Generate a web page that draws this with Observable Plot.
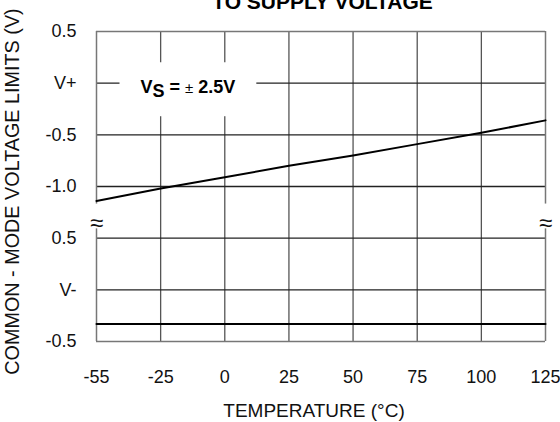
<!DOCTYPE html>
<html><head><meta charset="utf-8">
<script src="https://cdn.jsdelivr.net/npm/d3@7"></script>
<script src="https://cdn.jsdelivr.net/npm/@observablehq/plot@0.6"></script>
<style>body{margin:0;background:#fff}</style>
</head><body><div id="chart"></div>
<script>
// ---- data ----
const temps = [-55, -25, 0, 25, 50, 75, 100, 125];
// upper common-mode limit, volts relative to V+
const upperLimit = [-1.14, -1.02, -0.91, -0.80, -0.70, -0.59, -0.48, -0.36];
// lower common-mode limit, volts relative to V-
const lowerLimit = [-0.33, -0.33, -0.33, -0.33, -0.33, -0.33, -0.33, -0.33];
const yTickLabels = ["0.5", "V+", "-0.5", "-1.0", "0.5", "V-", "-0.5"];
const titleText = "TO SUPPLY VOLTAGE";
const xLabel = "TEMPERATURE (°C)";
const yLabel = "COMMON - MODE VOLTAGE LIMITS (V)";
const annotationText = "VS = ± 2.5V";

// ---- derived ----
const SEG = 2; // the V- segment sits 2 units below the V+ segment on the broken axis
const yPos = yTickLabels.map((_, i) => 0.5 - 0.5 * i);
const xIdx = temps.map((_, i) => i);
const upper = temps.map((t, i) => ({x: i, y: upperLimit[i]}));
const lower = temps.map((t, i) => ({x: i, y: lowerLimit[i] - SEG}));
const yTop = yPos[0], yBot = yPos[yPos.length - 1];
const xLast = xIdx[xIdx.length - 1];
const breakTop = -1.17, breakBottom = -1.41, breakMid = -1.36;
const font = "Liberation Sans, Arial, Helvetica, sans-serif";

const plot = Plot.plot({
  width: 560,
  height: 422,
  marginLeft: 96,
  marginRight: 15,
  marginTop: 31,
  marginBottom: 81,
  style: {fontFamily: font, fontSize: "18px", color: "#111", background: "#fff", overflow: "visible"},
  x: {domain: [0, xLast], axis: null},
  y: {domain: [yBot, yTop], axis: null},
  marks: [
    // grid
    Plot.ruleX(xIdx.slice(1, -1), {y1: yBot, y2: yTop, stroke: "#555", strokeWidth: 1.3}),
    Plot.ruleY(yPos.slice(1, -1), {x1: 0, x2: xLast, stroke: "#222", strokeWidth: 1.3}),
    // frame with axis breaks
    Plot.ruleY([yTop, yBot], {x1: 0, x2: xLast, stroke: "#777", strokeWidth: 1.5}),
    Plot.ruleX([0, xLast], {y1: breakTop, y2: yTop, stroke: "#777", strokeWidth: 1.5}),
    Plot.ruleX([0, xLast], {y1: yBot, y2: breakBottom, stroke: "#777", strokeWidth: 1.5}),
    Plot.text([0, xLast], {x: d => d, y: breakMid, text: () => "≈", fontSize: 24, fill: "#111"}),
    // data
    Plot.line(upper, {x: "x", y: "y", stroke: "#000", strokeWidth: 2}),
    Plot.line(lower, {x: "x", y: "y", stroke: "#000", strokeWidth: 2}),
    // axes
    Plot.axisX(xIdx, {tickSize: 0, tickPadding: 29, tickFormat: (d) => String(temps[d]), fontSize: 18, label: null}),
    Plot.axisY(yPos, {tickSize: 0, tickPadding: 20, tickFormat: (d) => yTickLabels[yPos.indexOf(d)], fontSize: 18, label: null}),
    // annotation
    Plot.text([annotationText], {frameAnchor: "top-left", dx: 44, dy: 56, textAnchor: "start", lineAnchor: "middle", fontWeight: "bold", fontSize: 18, fill: "#000"}),
    // labels
    Plot.text([titleText], {frameAnchor: "top", dx: 1.5, dy: -29.4, lineAnchor: "middle", fontWeight: "bold", fontSize: 21, fill: "#000"}),
    Plot.text([xLabel], {frameAnchor: "bottom", dx: -7, dy: 69, lineAnchor: "middle", fontSize: 19, fill: "#111"}),
    Plot.text([yLabel], {frameAnchor: "left", dx: -84, dy: 5, rotate: -90, lineAnchor: "middle", textAnchor: "middle", fontSize: 19.8, fill: "#111"})
  ]
});
document.getElementById("chart").append(plot);

// subscript S and white box behind the annotation
const ann = d3.select(plot).selectAll("text").filter(function() { return this.textContent === annotationText; }).node();
if (ann) {
  const s = d3.select(ann).style("white-space", "pre");
  ann.textContent = "";
  s.append("tspan").text("V");
  s.append("tspan").attr("dy", "0.22em").text("S");
  s.append("tspan").attr("dy", "-0.22em").text(" = ");
  s.append("tspan").attr("font-weight", "normal").attr("font-size", 15).text("±");
  s.append("tspan").text(" 2.5V");
  const bb = ann.getBBox();
  const padX = 21, padY = 15;
  const r = document.createElementNS("http://www.w3.org/2000/svg", "rect");
  r.setAttribute("x", bb.x - padX);
  r.setAttribute("y", bb.y - padY);
  r.setAttribute("width", bb.width + 2 * padX);
  r.setAttribute("height", bb.height + 2 * padY);
  r.setAttribute("fill", "#fff");
  const tr = ann.getAttribute("transform");
  if (tr) r.setAttribute("transform", tr);
  ann.parentNode.insertBefore(r, ann);
}
</script>
</body></html>
